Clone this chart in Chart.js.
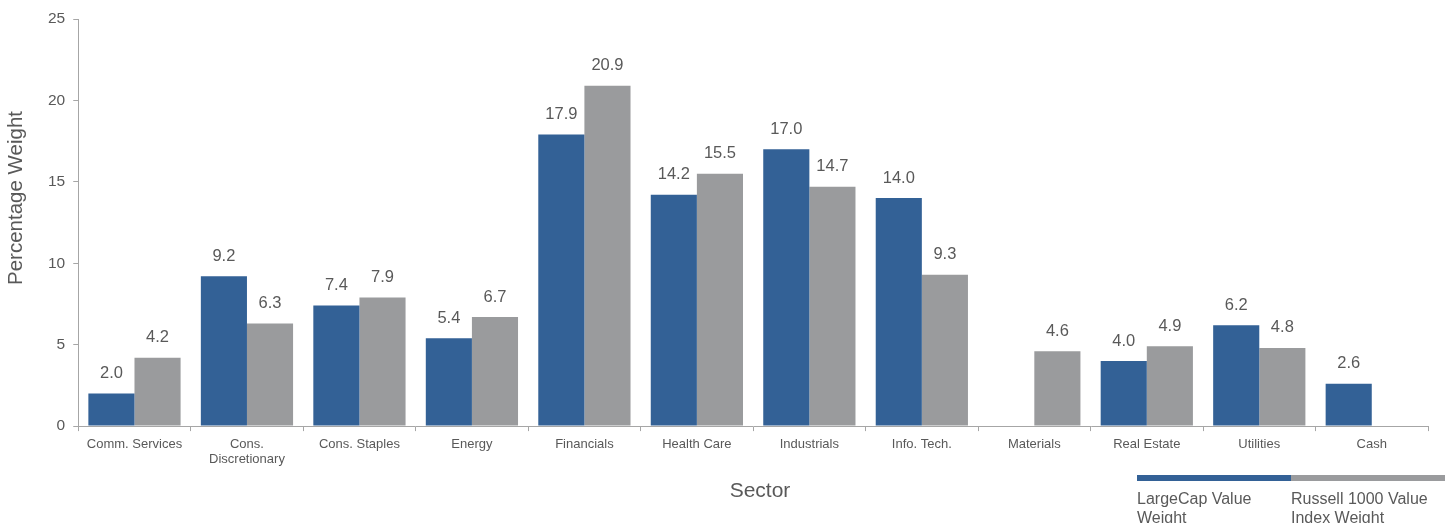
<!DOCTYPE html>
<html><head><meta charset="utf-8">
<script src="https://cdn.jsdelivr.net/npm/chart.js@4/dist/chart.umd.min.js"></script>
<style>
html,body{margin:0;padding:0;background:#fff;}
#wrap{position:relative;width:1450px;height:523px;overflow:hidden;}
#legend{position:absolute;left:1137px;top:475px;width:310px;font-family:"Liberation Sans",Arial,sans-serif;font-size:16px;color:#595959;line-height:19px;}
.li{position:absolute;top:0;width:154px;}
.bar{height:6px;margin-bottom:8px;}
</style></head>
<body><div id="wrap"><canvas id="c" width="1450" height="523"></canvas>
<div id="legend"></div></div>
<script>
const categories = ['Comm. Services', ['Cons.', 'Discretionary'], 'Cons. Staples', 'Energy', 'Financials', 'Health Care', 'Industrials', 'Info. Tech.', 'Materials', 'Real Estate', 'Utilities', 'Cash'];
const largeCapValue = [2.0, 9.2, 7.4, 5.4, 17.9, 14.2, 17.0, 14.0, null, 4.0, 6.2, 2.6];
const russell1000Value = [4.2, 6.3, 7.9, 6.7, 20.9, 15.5, 14.7, 9.3, 4.6, 4.9, 4.8, null];
const seriesNames = [['LargeCap Value', 'Weight'], ['Russell 1000 Value', 'Index Weight']];
const yTicks = [0, 5, 10, 15, 20, 25];
const xTitle = 'Sector';
const yTitle = 'Percentage Weight';
const colors = ['#336196', '#9a9b9d'];
const textColor = '#595959';
const fontFam = '"Liberation Sans", Arial, sans-serif';

const labelPlugin = {
  id: 'vlabels',
  afterDatasetsDraw(chart) {
    const ctx = chart.ctx;
    ctx.save();
    ctx.font = '16.5px ' + fontFam;
    ctx.fillStyle = textColor;
    ctx.textAlign = 'center';
    ctx.textBaseline = 'middle';
    chart.data.datasets.forEach((ds, i) => {
      const meta = chart.getDatasetMeta(i);
      meta.data.forEach((el, j) => {
        const v = ds.data[j];
        if (v === null || v === undefined) return;
        ctx.fillText(v.toFixed(1), el.x, el.y - 20);
      });
    });
    // axis titles
    ctx.font = '21px ' + fontFam;
    ctx.fillText(xTitle, 760, 491);
    ctx.translate(16, 198);
    ctx.rotate(-Math.PI / 2);
    ctx.font = '20.5px ' + fontFam;
    ctx.fillText(yTitle, 0, 0);
    ctx.restore();
  }
};

new Chart(document.getElementById('c'), {
  type: 'bar',
  data: {
    labels: categories,
    datasets: [
      { label: seriesNames[0].join(' '), data: largeCapValue, backgroundColor: colors[0] },
      { label: seriesNames[1].join(' '), data: russell1000Value, backgroundColor: colors[1] }
    ]
  },
  options: {
    responsive: false,
    animation: false,
    layout: { padding: { left: 40, right: 22, top: 19, bottom: 50 } },
    plugins: { legend: { display: false }, tooltip: { enabled: false } },
    datasets: { bar: { categoryPercentage: 0.82, barPercentage: 1.0 } },
    scales: {
      x: {
        grid: { drawOnChartArea: false, drawTicks: true, tickLength: 5, color: '#a6a6a6', offset: true },
        border: { color: '#a6a6a6' },
        ticks: { color: textColor, font: { family: fontFam, size: 13, lineHeight: 1.15 }, maxRotation: 0, autoSkip: false, padding: 6 }
      },
      y: {
        min: 0, max: 25,
        afterBuildTicks(axis) { axis.ticks = yTicks.map(v => ({ value: v })); },
        grid: { drawOnChartArea: false, drawTicks: true, tickLength: 5, color: '#a6a6a6' },
        border: { color: '#a6a6a6' },
        ticks: { color: textColor, font: { family: fontFam, size: 15.5 }, padding: 8 }
      }
    }
  },
  plugins: [labelPlugin]
});

const leg = document.getElementById('legend');
seriesNames.forEach((n, i) => {
  const d = document.createElement('div');
  d.className = 'li';
  d.style.left = (i * 154) + 'px';
  d.innerHTML = '<div class="bar" style="background:' + colors[i] + '"></div>' + n.join('<br>');
  leg.appendChild(d);
});
</script></body></html>
